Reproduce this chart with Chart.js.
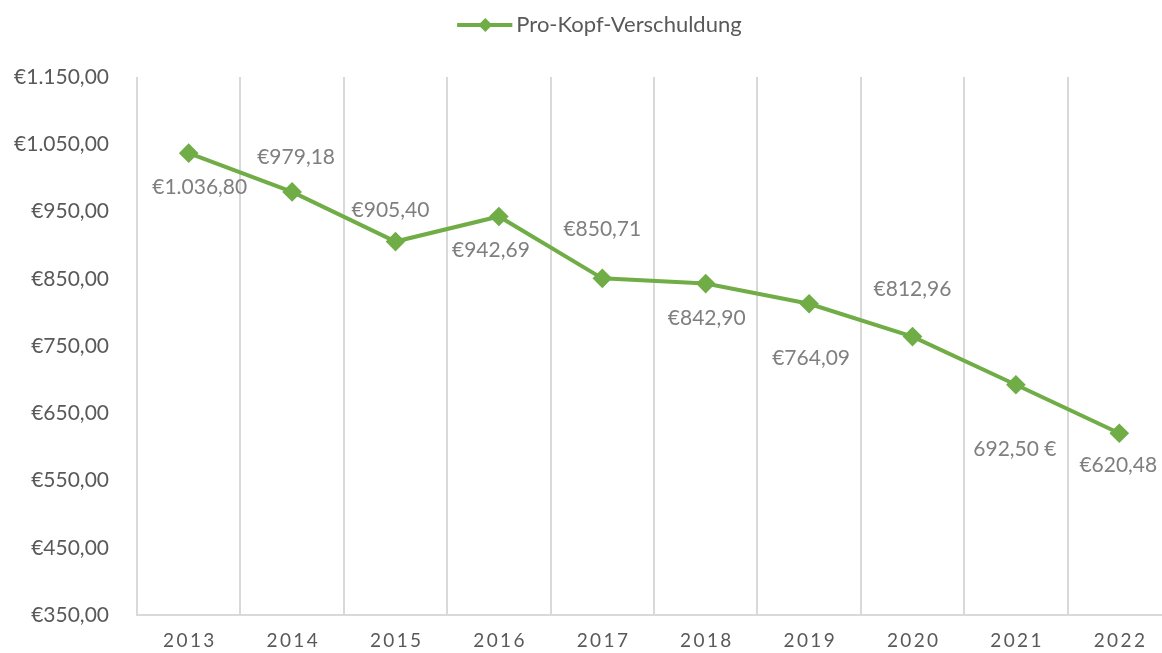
<!DOCTYPE html>
<html>
<head>
<meta charset="utf-8">
<script src="https://cdn.jsdelivr.net/npm/chart.js@4/dist/chart.umd.min.js"></script>
<style>
  html, body { margin: 0; padding: 0; background: #fff; overflow: hidden; }
  #wrap { width: 1182px; height: 666px; }
  canvas { display: block; }
</style>
</head>
<body>
<div id="wrap"><canvas id="chart-area"></canvas></div>
<script>
// data
var years = ['2013', '2014', '2015', '2016', '2017', '2018', '2019', '2020', '2021', '2022'];
var debtPerHead = [1036.80, 979.18, 905.40, 942.69, 850.71, 842.90, 812.96, 764.09, 692.50, 620.48];
// label texts exactly as printed on the chart (2019/2020 appear swapped there)
var labelTexts = ['€1.036,80', '€979,18', '€905,40', '€942,69', '€850,71', '€842,90', '€764,09', '€812,96', '692,50 €', '€620,48'];
var yTicks = [350, 450, 550, 650, 750, 850, 950, 1050, 1150];

// where each label sits relative to its point (px)
var labelOffsets = [[11, 34], [4, -35], [-5, -31], [-8, 34], [0, -49], [1, 35], [2, 54], [0, -47], [-1, 64], [-1, 32]];

var FONT = 'Lato, "Open Sans", sans-serif';
var green = '#70ad47';
var legendShift = 3;

function euro(v) {
    var s = v.toFixed(2).split('.');
    var int = s[0].replace(/\B(?=(\d{3})+(?!\d))/g, '.');
    return '€' + int + ',' + s[1];
}

var pointLabels = {
    id: 'pointLabels',
    afterDatasetsDraw: function(chart) {
        var ctx = chart.ctx;
        var meta = chart.getDatasetMeta(0);
        ctx.save();
        ctx.font = '21px ' + FONT;
        ctx.fillStyle = '#7f7f7f';
        ctx.textAlign = 'center';
        ctx.textBaseline = 'middle';
        meta.data.forEach(function(pt, i) {
            var off = labelOffsets[i];
            ctx.fillText(labelTexts[i], pt.x + off[0], pt.y + off[1]);
        });
        ctx.restore();
    }
};

// more room under the legend, nudge it right, and give its line a diamond
var legendTweaks = {
    id: 'legendTweaks',
    beforeInit: function(chart) {
        var legend = chart.legend;
        var fit = legend.fit;
        legend.fit = function() {
            fit.call(legend);
            this.height += 31;
        };
    },
    afterLayout: function(chart) {
        var legend = chart.legend;
        legend.left += legendShift;
        legend.right += legendShift;
    },
    afterDraw: function(chart) {
        var items = chart.legend.legendHitBoxes;
        if (!items || !items.length) return;
        var b = items[0];
        var ctx = chart.ctx;
        var x0 = b.left, cy = b.top + b.height / 2;
        var cx = x0 + 28;
        ctx.save();
        ctx.strokeStyle = green;
        ctx.lineWidth = 4;
        ctx.beginPath();
        ctx.moveTo(x0, cy);
        ctx.lineTo(x0 + 55, cy);
        ctx.stroke();
        ctx.fillStyle = green;
        ctx.beginPath();
        ctx.moveTo(cx, cy - 7);
        ctx.lineTo(cx + 7, cy);
        ctx.lineTo(cx, cy + 7);
        ctx.lineTo(cx - 7, cy);
        ctx.closePath();
        ctx.fill();
        ctx.restore();
    }
};

var config = {
    type: 'line',
    data: {
        labels: years,
        datasets: [{
            label: 'Pro-Kopf-Verschuldung',
            data: debtPerHead,
            borderColor: green,
            backgroundColor: green,
            borderWidth: 4,
            pointStyle: 'rectRot',
            pointRadius: 7,
            pointHoverRadius: 7,
            pointBackgroundColor: green,
            pointBorderColor: green,
            tension: 0
        }]
    },
    options: {
        responsive: true,
        maintainAspectRatio: false,
        animation: false,
        layout: { padding: { left: 13, right: 2, top: 0, bottom: 0 } },
        plugins: {
            tooltip: { enabled: false },
            legend: {
                display: true,
                position: 'top',
                labels: {
                    color: '#595959',
                    font: { family: FONT, size: 22 },
                    usePointStyle: true,
                    pointStyleWidth: 48,
                    generateLabels: function(chart) {
                        return [{
                            text: 'Pro-Kopf-Verschuldung',
                            fillStyle: green,
                            strokeStyle: green,
                            lineWidth: 4,
                            pointStyle: 'line',
                            fontColor: '#595959',
                            datasetIndex: 0
                        }];
                    },
                    padding: 14
                }
            }
        },
        scales: {
            x: {
                offset: true,
                grid: {
                    offset: true,
                    display: true,
                    color: '#d9d9d9',
                    lineWidth: 2,
                    drawTicks: false
                },
                border: { display: true, color: '#d9d9d9', width: 2 },
                ticks: {
                    color: '#595959',
                    padding: 14,
                    font: { family: FONT, size: 19 },
                    callback: function(v, i) { return years[i].split('').join('\u200A\u200A'); }
                }
            },
            y: {
                min: 350,
                max: 1150,
                afterBuildTicks: function(axis) {
                    axis.ticks = yTicks.map(function(v) { return { value: v }; });
                },
                afterFit: function(axis) { axis.width = 124; },
                grid: { display: false, drawTicks: false },
                border: { display: false },
                ticks: {
                    color: '#595959',
                    padding: 28,
                    font: { family: FONT, size: 21 },
                    callback: function(v) { return euro(v); }
                }
            }
        }
    },
    plugins: [pointLabels, legendTweaks]
};

var ctx = document.getElementById('chart-area').getContext('2d');
var myLine = new Chart(ctx, config);
</script>
</body>
</html>
